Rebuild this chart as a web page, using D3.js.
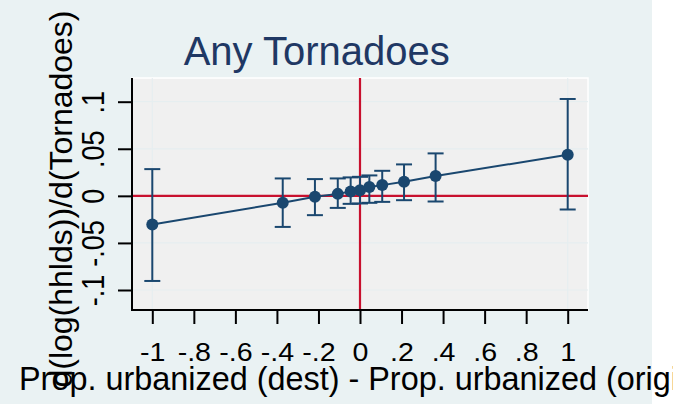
<!DOCTYPE html>
<html>
<head>
<meta charset="utf-8">
<script src="https://cdn.jsdelivr.net/npm/d3@7"></script>
<style>
  html, body { margin: 0; padding: 0; background: #ffffff; }
  svg { display: block; font-family: "Liberation Sans", Arial, Helvetica, sans-serif; }
</style>
</head>
<body>
<svg id="chart" width="673" height="404"></svg>
<script>
// Binned difference in urbanization vs. estimated effect, with confidence bands
const diffUrban = [-1, -0.372, -0.217, -0.107, -0.045, 0, 0.045, 0.107, 0.212, 0.364, 1];
const estimate  = [-0.0304, -0.0074, -0.0010, 0.0021, 0.0047, 0.0060, 0.0093, 0.0114, 0.0149, 0.0210, 0.0436];
const ciUpper   = [0.0284, 0.0185, 0.0178, 0.0185, 0.0196, 0.0202, 0.0217, 0.0266, 0.0334, 0.0451, 0.1029];
const ciLower   = [-0.0904, -0.0330, -0.0205, -0.0128, -0.0085, -0.0081, -0.0074, -0.0064, -0.0046, -0.0060, -0.0145];

const xTicks = [-1, -0.8, -0.6, -0.4, -0.2, 0, 0.2, 0.4, 0.6, 0.8, 1];
const xTickLabels = ["-1", "-.8", "-.6", "-.4", "-.2", "0", ".2", ".4", ".6", ".8", "1"];
const yTicks = [-0.1, -0.05, 0, 0.05, 0.1];
const yTickLabels = ["-.1", "-.05", "0", ".05", ".1"];

const titleText = "Any Tornadoes";
const xTitle = "Prop. urbanized (dest) - Prop. urbanized (origin)";
const yTitle = "d(log(hhlds))/d(Tornadoes)";

const navy = "#1a476f";
const refRed = "#c8102e";

const svg = d3.select("#chart");

// graph region background
svg.append("rect").attr("x", 0).attr("y", 0).attr("width", 652).attr("height", 404)
  .attr("fill", "#eaf2f3");

const plot = { left: 132, right: 588, top: 78, bottom: 310 };

const x = d3.scaleLinear().domain([-1, 1]).range([152.3, 567.7]);
const y = d3.scaleLinear().domain([-0.1, 0.1]).range([290, 101.7]);

// plot region
svg.append("rect")
  .attr("x", plot.left).attr("y", plot.top)
  .attr("width", plot.right - plot.left).attr("height", plot.bottom - plot.top)
  .attr("fill", "#f0f0f0").attr("stroke", "#ffffff").attr("stroke-width", 1.5);

// grid lines
const grid = svg.append("g").attr("stroke", "#e6eef0").attr("stroke-width", 1.2);
yTicks.filter(v => v !== 0).forEach(v => {
  grid.append("line").attr("x1", plot.left).attr("x2", plot.right)
    .attr("y1", y(v)).attr("y2", y(v));
});
[-1, 1].forEach(v => {
  grid.append("line").attr("x1", x(v)).attr("x2", x(v))
    .attr("y1", plot.top).attr("y2", plot.bottom);
});

// reference lines at zero
svg.append("line").attr("x1", plot.left).attr("x2", plot.right)
  .attr("y1", y(0)).attr("y2", y(0)).attr("stroke", refRed).attr("stroke-width", 2.2);
svg.append("line").attr("x1", x(0)).attr("x2", x(0))
  .attr("y1", plot.top).attr("y2", plot.bottom).attr("stroke", refRed).attr("stroke-width", 2.2);

const pts = diffUrban.map((d, i) => ({ x: d, y: estimate[i], hi: ciUpper[i], lo: ciLower[i] }));

// confidence intervals
const ci = svg.append("g").attr("stroke", navy).attr("stroke-width", 2).attr("fill", "none");
pts.forEach(p => {
  ci.append("line").attr("x1", x(p.x)).attr("x2", x(p.x)).attr("y1", y(p.lo)).attr("y2", y(p.hi));
  ci.append("line").attr("x1", x(p.x) - 8).attr("x2", x(p.x) + 8).attr("y1", y(p.hi)).attr("y2", y(p.hi));
  ci.append("line").attr("x1", x(p.x) - 8).attr("x2", x(p.x) + 8).attr("y1", y(p.lo)).attr("y2", y(p.lo));
});

// connecting line and markers
svg.append("path").datum(pts)
  .attr("d", d3.line().x(d => x(d.x)).y(d => y(d.y)))
  .attr("fill", "none").attr("stroke", navy).attr("stroke-width", 2);
svg.append("g").selectAll("circle").data(pts).join("circle")
  .attr("cx", d => x(d.x)).attr("cy", d => y(d.y)).attr("r", 6).attr("fill", navy);

// axes
const xAxis = d3.axisBottom(x).tickValues(xTicks).tickSize(14).tickPadding(4)
  .tickFormat((d, i) => xTickLabels[i]);
const gx = svg.append("g").attr("transform", `translate(0,${plot.bottom})`).call(xAxis);
gx.select(".domain").remove();
gx.selectAll(".tick line").attr("stroke", "#000").attr("stroke-width", 2);
gx.selectAll(".tick text").attr("fill", "#000").attr("font-size", 26)
  .attr("dy", null).attr("y", null)
  .attr("transform", "translate(0,51) scale(1.1,1)");

const yAxis = d3.axisLeft(y).tickValues(yTicks).tickSize(14)
  .tickFormat((d, i) => yTickLabels[i]);
const gy = svg.append("g").attr("transform", `translate(${plot.left},0)`).call(yAxis);
gy.select(".domain").remove();
gy.selectAll(".tick line").attr("stroke", "#000").attr("stroke-width", 2);
gy.selectAll(".tick text").attr("fill", "#000").attr("font-size", 27)
  .attr("x", null).attr("dy", null)
  .attr("text-anchor", "middle")
  .attr("transform", "translate(-28,0) scale(1.15,1) rotate(-90)");

// axis lines
svg.append("line").attr("x1", plot.left).attr("x2", plot.left)
  .attr("y1", plot.top).attr("y2", plot.bottom + 1).attr("stroke", "#000").attr("stroke-width", 2);
svg.append("line").attr("x1", plot.left).attr("x2", plot.right)
  .attr("y1", plot.bottom).attr("y2", plot.bottom).attr("stroke", "#000").attr("stroke-width", 2);

// titles
svg.append("text").attr("x", 316.7).attr("y", 65).attr("text-anchor", "middle")
  .attr("font-size", 40).attr("fill", "#1f3864").text(titleText);

svg.append("text").attr("x", 19).attr("y", 390).attr("text-anchor", "start")
  .attr("font-size", 32.4).attr("fill", "#000").text(xTitle);

svg.append("text")
  .attr("transform", `translate(72,199) rotate(-90)`)
  .attr("text-anchor", "middle").attr("font-size", 32).attr("fill", "#000").text(yTitle);
</script>
</body>
</html>
